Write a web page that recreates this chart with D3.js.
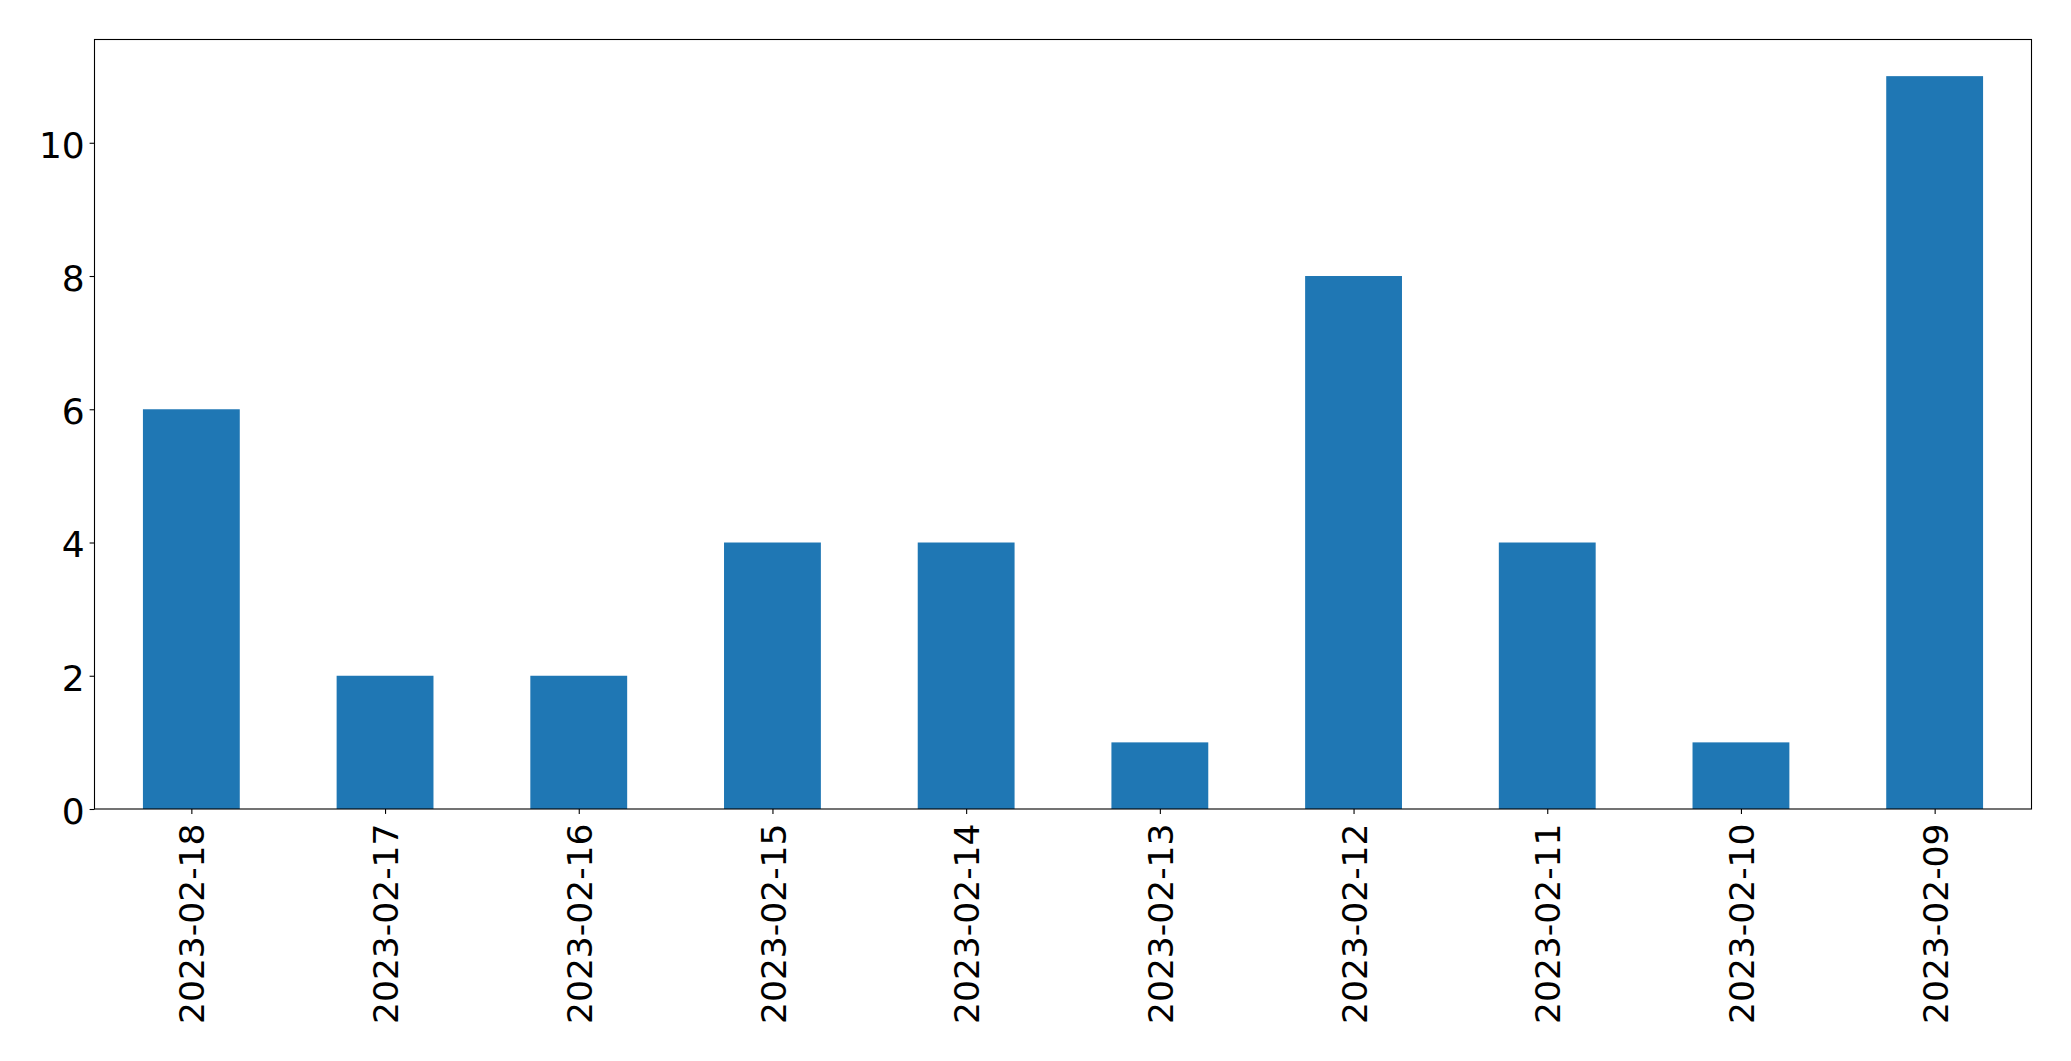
<!DOCTYPE html>
<html>
<head>
<meta charset="utf-8">
<script src="https://cdn.jsdelivr.net/npm/d3@7/dist/d3.min.js"></script>
<style>
  html, body { margin: 0; padding: 0; background: #fff; }
  svg { display: block; }
  text { font-family: "DejaVu Sans", sans-serif; fill: #000; }
</style>
</head>
<body>
<svg id="chart" width="2071" height="1061"></svg>
<script>
const categories = ["2023-02-18","2023-02-17","2023-02-16","2023-02-15","2023-02-14","2023-02-13","2023-02-12","2023-02-11","2023-02-10","2023-02-09"];
const values = [6, 2, 2, 4, 4, 1, 8, 4, 1, 11];
const yTicks = [0, 2, 4, 6, 8, 10];

const W = 2071, H = 1061;
const m = { left: 94.5, right: 2031.5, top: 39.5, bottom: 809 };
const fontSize = 36;
const xFontSize = 34.5;
const tickLen = 4.9, pad = 4.9;

const svg = d3.select("#chart");

// linear x mimicking matplotlib category positions (-0.5 .. n-0.5)
const x = d3.scaleLinear().domain([-0.5, categories.length - 0.5]).range([m.left, m.right]);
const y = d3.scaleLinear().domain([0, d3.max(values) * 1.05]).range([m.bottom, m.top]);
const barW = x(0.25) - x(-0.25);

svg.append("g").selectAll("rect").data(values).join("rect")
  .attr("x", (d, i) => x(i) - barW / 2)
  .attr("width", barW)
  .attr("y", d => y(d))
  .attr("height", d => y(0) - y(d))
  .attr("fill", "#1f77b4");

// frame
svg.append("rect")
  .attr("x", m.left).attr("y", m.top)
  .attr("width", m.right - m.left).attr("height", m.bottom - m.top)
  .attr("fill", "none").attr("stroke", "#000").attr("stroke-width", 1.1);

// y axis
const yAxis = d3.axisLeft(y).tickValues(yTicks).tickSize(tickLen).tickPadding(pad).tickFormat(d3.format("d"));
const gy = svg.append("g").attr("transform", `translate(${m.left},0)`).call(yAxis);
gy.select(".domain").remove();
gy.selectAll(".tick line").attr("stroke", "#000").attr("stroke-width", 1.1);
gy.selectAll(".tick text")
  .attr("font-size", fontSize).attr("font-family", "DejaVu Sans, sans-serif")
  .attr("dy", "0.4em").attr("fill", "#000");

// x axis
const xAxis = d3.axisBottom(x).tickValues(d3.range(categories.length)).tickSize(tickLen).tickFormat(i => categories[i]);
const gx = svg.append("g").attr("transform", `translate(0,${m.bottom})`).call(xAxis);
gx.select(".domain").remove();
gx.selectAll(".tick line").attr("stroke", "#000").attr("stroke-width", 1.1);
gx.selectAll(".tick text")
  .attr("font-size", xFontSize).attr("font-family", "DejaVu Sans, sans-serif")
  .attr("fill", "#000")
  .attr("text-anchor", "end")
  .attr("x", 0).attr("y", 0)
  .attr("dy", "0.365em")
  .attr("transform", `translate(0,${14.5}) rotate(-90)`);
</script>
</body>
</html>
